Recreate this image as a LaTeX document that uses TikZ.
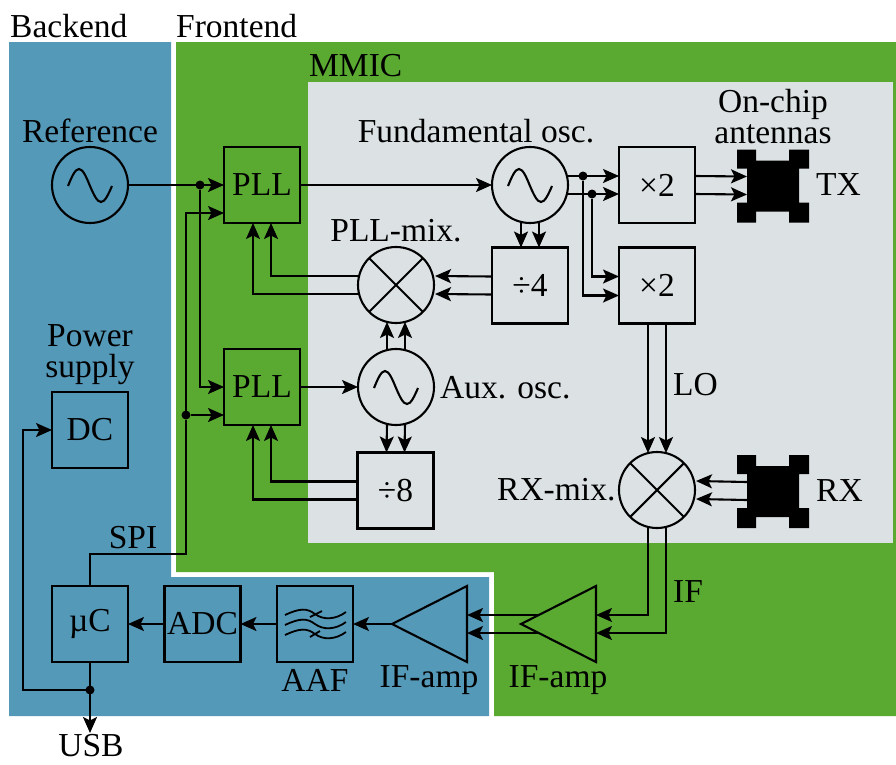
\documentclass[tikz,border=0pt]{standalone}
\usepackage{fontspec}
\setmainfont{Liberation Serif}
\usetikzlibrary{arrows.meta, shapes.geometric, calc}
\definecolor{backendblue}{RGB}{85,153,184}
\definecolor{frontendgreen}{RGB}{90,170,50}
\definecolor{mmicgrey}{RGB}{220,226,228}
\tikzset{
  wire/.style={line width=2.1pt},
  arrowwire/.style={wire, -{Stealth[length=16pt, width=14pt, inset=3.5pt]}},
  blockbox/.style={draw, line width=2.1pt, minimum size=76pt, inner sep=0pt, outer sep=0pt},
  roundbox/.style={circle, draw, line width=2.1pt, minimum size=76pt, inner sep=0pt, outer sep=0pt},
  oscbox/.style={roundbox, path picture={
    \draw[line width=2.1pt] ($(path picture bounding box.center)+(-22,1)$) sin ++(11,-17) cos ++(11,17) sin ++(11,16) cos ++(11,-16);}},
  mixbox/.style={roundbox, path picture={
    \draw[line width=2.1pt] (path picture bounding box.north west) -- (path picture bounding box.south east)
      (path picture bounding box.north east) -- (path picture bounding box.south west);}},
  filterbox/.style={blockbox, path picture={
    \foreach \w in {-10,0,10} {
      \draw[line width=1.8pt, shift={(path picture bounding box.center)}] (-30,\w+1) .. controls (-15,\w-6) and (-8,\w-6) .. (0,\w) .. controls (8,\w+6) and (20,\w+6) .. (31,\w-2);}
    \draw[line width=1.8pt, shift={(path picture bounding box.center)}] (-5,-7) -- (7,-13) (-5,13) -- (5,7);}},
  ampbox/.style={isosceles triangle, draw, line width=2.1pt, shape border rotate=180, isosceles triangle stretches,
    minimum width=76pt, minimum height=75pt, inner sep=0pt, outer sep=0pt, anchor=apex},
  antbox/.style={minimum width=52pt, minimum height=73pt, inner sep=0pt, outer sep=0pt},
  dotmark/.style={circle, fill=black, minimum size=9pt, inner sep=0pt, outer sep=0pt},
  lab/.style={inner sep=0pt, align=center, font=\fontsize{33.5}{31}\selectfont}
}
\newcommand{\antshape}[1]{%
  \fill[black, shift={(#1)}] (-36,-36) -- (-17,-36) -- (-17,-25) -- (16,-25) -- (16,-36) -- (36,-36) -- (36,-17) -- (26,-17)
    -- (26,17) -- (36,17) -- (36,37) -- (16,37) -- (16,26) -- (-17,26) -- (-17,37) -- (-36,37) -- (-36,17) -- (-26,17)
    -- (-26,-17) -- (-36,-17) -- cycle;}
\begin{document}
\begin{tikzpicture}[x=1pt, y=-1pt]
  \useasboundingbox (0,0) rectangle (896,764);
  % panels
  \fill[backendblue] (9,42) -- (171,42) -- (171,577) -- (489,577) -- (489,716) -- (9,716) -- cycle;
  \fill[frontendgreen] (176,42) -- (896,42) -- (896,716) -- (494,716) -- (494,572) -- (176,572) -- cycle;
  \fill[mmicgrey] (308,82) rectangle (893,543);

  % blocks
  \node[oscbox] (refosc) at (90,185) {};
  \node[oscbox] (fundosc) at (530,185) {};
  \node[oscbox] (auxosc) at (396,387) {};
  \node[mixbox] (pllmix) at (396,285) {};
  \node[mixbox] (rxmix) at (657,490) {};
  \node[blockbox, lab] (pllup) at (262,185) {PLL};
  \node[blockbox, lab] (plldown) at (262,387) {PLL};
  \node[blockbox, lab] (dblup) at (657,185) {×2};
  \node[blockbox, lab] (dbldown) at (657,285.5) {×2};
  \node[blockbox, lab] (divfour) at (530,285.5) {÷4};
  \node[blockbox, lab] (diveight) at (395.5,490.5) {÷8};
  \node[blockbox, lab] (dcbox) at (90,430) {DC};
  \node[blockbox, lab] (ucbox) at (90,624) {µC};
  \node[blockbox, lab] (adcbox) at (202.5,624) {ADC};
  \node[filterbox] (aafbox) at (315,624) {};
  \node[ampbox] (ampback) at (392,624) {};
  \node[ampbox] (ampfront) at (521,624) {};
  \antshape{773,185.5}
  \antshape{773,491}
  \node[antbox] (txant) at (773,185.5) {};
  \node[antbox] (rxant) at (773,491) {};

  % labels
  \node[lab, anchor=west] (backendlab) at (10,26) {Backend};
  \node[lab, anchor=west] (frontendlab) at (176,26) {Frontend};
  \node[lab, anchor=west] (mmiclab) at (309,66) {MMIC};
  \node[lab] (reflab) at (90,131) {Reference};
  \node[lab] (fundlab) at (476,131) {Fundamental osc.};
  \node[lab] (chiplab) at (773,117) {On-chip\\antennas};
  \node[lab, anchor=west] (txlab) at (816,185) {TX};
  \node[lab] (mixlab) at (396,231) {PLL-mix.};
  \node[lab, anchor=west] (auxlab) at (440,388) {Aux. osc.};
  \node[lab, anchor=west] (rxmixlab) at (497,490) {RX-mix.};
  \node[lab, anchor=west] (rxlab) at (816,491) {RX};
  \node[lab, anchor=west] (lolab) at (673,385) {LO};
  \node[lab, anchor=west] (iflab) at (673,592) {IF};
  \node[lab] (powerlab) at (90,355) {Power\\supply};
  \node[lab] (spilab) at (133,538) {SPI};
  \node[lab] (aaflab) at (315,680) {AAF};
  \node[lab] (ampbacklab) at (429,680) {IF-amp};
  \node[lab] (ampfrontlab) at (558,680) {IF-amp};
  \node[lab] (usblab) at (91,746) {USB};

  % junctions
  \node[dotmark] (refdot) at (200,185) {};
  \node[dotmark] (spidot) at (186,415) {};
  \node[dotmark] (fundtop) at (583,176) {};
  \node[dotmark] (fundlow) at (592,194) {};
  \node[dotmark] (usbdot) at (90,690) {};
  \coordinate (spibend) at (186,554);
  \coordinate (usbend) at (90,733);

  % reference and control lines
  \draw[arrowwire] (refosc.east) -- (pllup.west);
  \draw[arrowwire] (refdot) |- (plldown.west);
  \draw[wire] (ucbox.north) |- (spibend) -- (spidot);
  \draw[arrowwire] (spidot) |- ([yshift=-28pt]pllup.west);
  \draw[arrowwire] (spidot) -- ([yshift=-28pt]plldown.west);
  \draw[arrowwire] (pllup.east) -- (fundosc.west);
  \draw[arrowwire] (plldown.east) -- (auxosc.west);

  % double lines
  \foreach \s in {-9,9} {
    \draw[arrowwire] ([shift={(-1,\s)}]fundosc.east) -- ([yshift=-\s pt]dblup.west);
    \draw[arrowwire] ([yshift=-\s pt]dblup.east) -- ([yshift=-\s pt]txant.west);
    \draw[arrowwire] ([xshift=\s pt, yshift=1pt]fundosc.south) -- ([xshift=\s pt]divfour.north);
    \draw[arrowwire] ([yshift=-\s pt]divfour.west) -- ([shift={(1,\s)}]pllmix.east);
    \draw[arrowwire] ([xshift=\s pt, yshift=-1pt]auxosc.north) -- ([xshift=\s pt, yshift=1pt]pllmix.south);
    \draw[arrowwire] ([xshift=\s pt, yshift=1pt]auxosc.south) -- ([xshift=\s pt]diveight.north);
    \draw[arrowwire] ([xshift=\s pt]dbldown.south) -- ([xshift=\s pt, yshift=-1pt]rxmix.north);
    \draw[arrowwire] ([yshift=-\s pt]rxant.west) -- ([shift={(1,\s)}]rxmix.east);
  }
  \draw[arrowwire] ([shift={(1,9)}]pllmix.west) -| ([xshift=-9pt]pllup.south);
  \draw[arrowwire] ([shift={(1,-9)}]pllmix.west) -| ([xshift=9pt]pllup.south);
  \draw[arrowwire] ([yshift=-9pt]diveight.west) -| ([xshift=-9pt]plldown.south);
  \draw[arrowwire] ([yshift=9pt]diveight.west) -| ([xshift=9pt]plldown.south);
  \draw[arrowwire] (fundtop) |- ([yshift=-10pt]dbldown.west);
  \draw[arrowwire] (fundlow) |- ([yshift=9pt]dbldown.west);
  \draw[arrowwire] ([shift={(-9,-1)}]rxmix.south) |- ([yshift=9pt]ampfront.east);
  \draw[arrowwire] ([shift={(9,-1)}]rxmix.south) |- ([yshift=-9pt]ampfront.east);
  \draw[arrowwire] ($(ampfront.apex)+(18,-9)$) -- ([yshift=9pt]ampback.east);
  \draw[arrowwire] ($(ampfront.apex)+(18,9)$) -- ([yshift=-9pt]ampback.east);

  % backend chain
  \draw[arrowwire] (ampback.apex) -- (aafbox.east);
  \draw[arrowwire] (aafbox.west) -- (adcbox.east);
  \draw[arrowwire] (adcbox.west) -- (ucbox.east);
  \draw[arrowwire] (ucbox.south) -- (usbend);
  \draw[arrowwire] (usbdot) -- ++(-67,0) |- (dcbox.west);
\end{tikzpicture}
\end{document}
